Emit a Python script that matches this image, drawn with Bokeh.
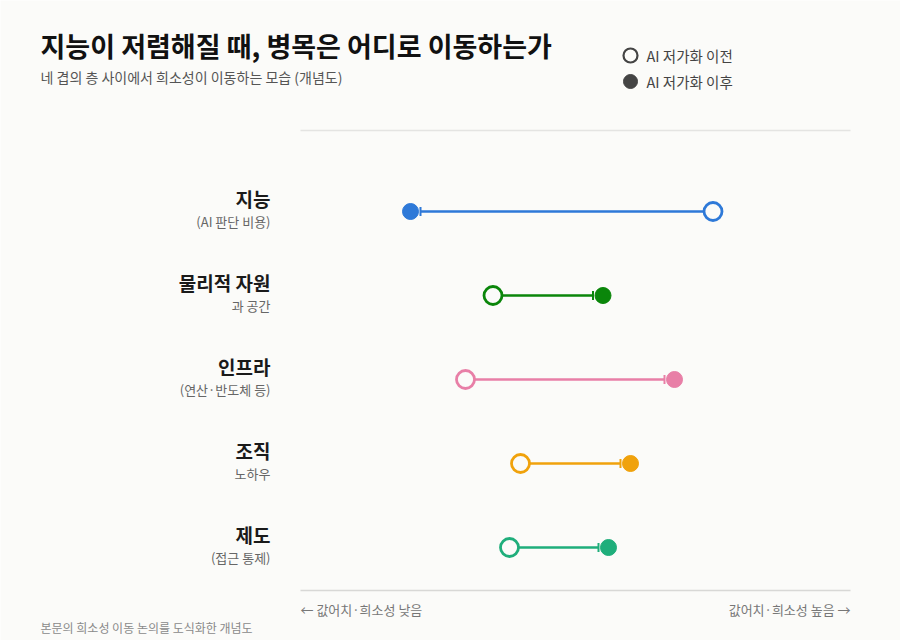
from bokeh.plotting import figure
from bokeh.models import Range1d, Arrow, TeeHead, ColumnDataSource
from bokeh.core.properties import value
from bokeh.embed import file_html
from bokeh.resources import INLINE

# ---- data ----
categories = ["지능", "물리적 자원", "인프라", "조직", "제도"]
subtitles = ["(AI 판단 비용)", "과 공간", "(연산·반도체 등)", "노하우", "(접근 통제)"]
before = [75, 35, 30, 40, 38]
after = [20, 55, 68, 60, 56]
colors = ["#2E79D8", "#0A860A", "#E87FA7", "#F0A20C", "#1FAE7B"]

FONT = value("Noto Sans CJK KR")
BG = "#FBFBF9"

W, H = 900, 640
PAGE_X, PAGE_Y = 0, 0
# layout: value axis 0..100 spans page px 300..850, rows at page y 211 + 84*i
X0, XW = 300.0, 5.5
Y0, YS = 211.0, 84.0


def px(xp):
    return (xp - X0) / XW


def py(yp):
    return (yp - Y0) / YS


p = figure(width=W, height=H, output_backend="svg", toolbar_location=None,
           x_range=Range1d(px(PAGE_X), px(PAGE_X + W)),
           y_range=Range1d(py(PAGE_Y + H), py(PAGE_Y)),
           min_border=0, background_fill_color=BG, border_fill_color=BG)
p.axis.visible = False
p.grid.visible = False
p.outline_line_color = None

rows = list(range(len(categories)))

# top/bottom rules
p.segment(x0=[0, 0], y0=[py(130), py(590)], x1=[100, 100], y1=[py(130), py(590)],
          line_color=["#E4E4E2", "#D8D8D6"], line_width=1.5)

# connecting arrows (drawn beneath the markers)
off = 10 / XW
for i in rows:
    b, a = before[i], after[i]
    end = a + off if a < b else a - off
    p.add_layout(Arrow(end=TeeHead(size=9, line_color=colors[i], line_width=2),
                       x_start=b, y_start=i, x_end=end, y_end=i,
                       line_color=colors[i], line_width=2.5, level="underlay"))

src = ColumnDataSource(dict(y=rows, b=before, a=after, c=colors))
p.scatter(x="a", y="y", source=src, size=16, fill_color="c", line_color="c", line_width=1)
p.scatter(x="b", y="y", source=src, size=18, fill_color=BG, line_color="c", line_width=2.8)

# row labels
p.text(x=[px(270)] * 5, y=[py(197.5 + 84 * i) for i in rows], text=categories,
       text_font=FONT, text_font_style="bold", text_font_size="19px",
       text_color="#1A1A1A", text_align="right", text_baseline="middle")
p.text(x=[px(270)] * 5, y=[py(220.5 + 84 * i) for i in rows], text=subtitles,
       text_font=FONT, text_font_size="13px",
       text_color="#666666", text_align="right", text_baseline="middle")

# title & subtitle
p.text(x=[px(40)], y=[py(45)], text=["지능이 저렴해질 때, 병목은 어디로 이동하는가"],
       text_font=FONT, text_font_style="bold", text_font_size="27px",
       text_color="#111111", text_align="left", text_baseline="middle")
p.text(x=[px(40)], y=[py(76)], text=["네 겹의 층 사이에서 희소성이 이동하는 모습 (개념도)"],
       text_font=FONT, text_font_size="14px",
       text_color="#555555", text_align="left", text_baseline="middle")

# legend
p.scatter(x=[px(630)], y=[py(55)], size=14, fill_color=BG, line_color="#444444", line_width=2.2)
p.scatter(x=[px(630)], y=[py(81)], size=14, fill_color="#444444", line_color="#444444")
p.text(x=[px(646), px(646)], y=[py(55), py(81)], text=["AI 저가화 이전", "AI 저가화 이후"],
       text_font=FONT, text_font_size="14.5px", text_color="#444444",
       text_align="left", text_baseline="middle")

# axis direction labels
p.text(x=[0], y=[py(609)], text=["← 값어치·희소성 낮음"], text_font=FONT, text_font_size="13px",
       text_color="#777777", text_align="left", text_baseline="middle")
p.text(x=[100], y=[py(609)], text=["값어치·희소성 높음 →"], text_font=FONT, text_font_size="13px",
       text_color="#777777", text_align="right", text_baseline="middle")

# footnote
p.text(x=[px(40)], y=[py(627)], text=["본문의 희소성 이동 논의를 도식화한 개념도"], text_font=FONT,
       text_font_size="12px", text_color="#8A8A8A", text_align="left", text_baseline="middle")

open("out.html", "w").write(file_html(p, INLINE))
